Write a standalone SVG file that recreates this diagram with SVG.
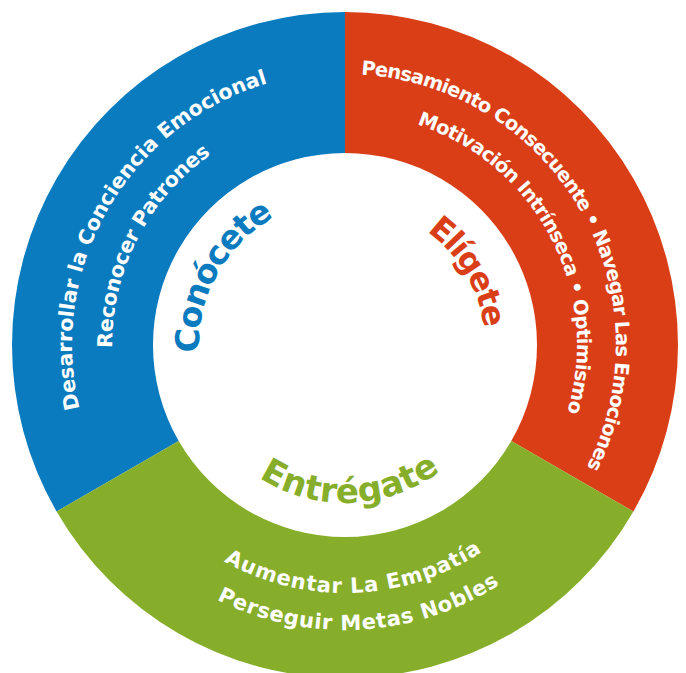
<svg xmlns="http://www.w3.org/2000/svg" width="686" height="673" viewBox="0 0 686 673">
  <defs>
    <style>
      .lbl { font-family: "DejaVu Sans", Verdana, "Liberation Sans", sans-serif; font-weight: bold; fill: #ffffff; }
      .big { font-family: "DejaVu Sans", Verdana, "Liberation Sans", sans-serif; font-weight: bold; }
      .blue { fill: #0A7BBE; }
      .red { fill: #DA3E17; }
      .green { fill: #86AE2B; }
    </style>
    <path id="pBlue1" d="M 79.54 408.73 A 273 273 0 0 1 267.46 83.24" fill="none"/>
    <path id="pBlue2" d="M 112.02 347.85 A 233 233 0 0 1 211.02 154.37" fill="none"/>
    <path id="pRed1" d="M 361.07 74.48 A 271 271 0 0 1 586.89 467.19" fill="none"/>
    <path id="pRed2" d="M 417.08 124.48 A 232 232 0 0 1 567.10 412.06" fill="none"/>
    <path id="pGreen1" d="M 224.01 561.48 A 248 248 0 0 0 481.88 551.80" fill="none"/>
    <path id="pGreen2" d="M 216.94 599.61 A 285 285 0 0 0 499.39 584.56" fill="none"/>
    <path id="pCon" d="M 199.20 352.64 A 146 146 0 0 1 274.22 217.31" fill="none"/>
    <path id="pEli" d="M 426.70 231.31 A 140 140 0 0 1 483.96 327.94" fill="none"/>
    <path id="pEnt" d="M 258.95 477.51 A 158 158 0 0 0 440.09 471.19" fill="none"/>
  </defs>
  <rect width="686" height="673" fill="#ffffff"/>

  <g id="conocete">
    <path class="blue" d="M 56.61 511.5 A 333 333 0 0 1 345 12 L 345 153 A 192 192 0 0 0 178.72 441 Z"/>
    <text class="lbl" font-size="20.5"><textPath href="#pBlue1" textLength="414.5" lengthAdjust="spacing">Desarrollar la Conciencia Emocional</textPath></text>
    <text class="lbl" font-size="20.5"><textPath href="#pBlue2" textLength="226.1" lengthAdjust="spacing">Reconocer Patrones</textPath></text>
    <text class="big blue" font-size="33"><textPath href="#pCon" textLength="163.1" lengthAdjust="spacing">Conócete</textPath></text>
  </g>

  <g id="eligete">
    <path class="red" d="M 345 12 A 333 333 0 0 1 633.39 511.5 L 511.28 441 A 192 192 0 0 0 345 153 Z"/>
    <text class="lbl" font-size="19.5"><textPath href="#pRed1" textLength="536.4" lengthAdjust="spacing">Pensamiento Consecuente • Navegar Las Emociones</textPath></text>
    <text class="lbl" font-size="19.5"><textPath href="#pRed2" textLength="359.2" lengthAdjust="spacing">Motivación Intrínseca • Optimismo</textPath></text>
    <text class="big red" font-size="32"><textPath href="#pEli" textLength="115.6" lengthAdjust="spacing">Elígete</textPath></text>
  </g>

  <g id="entregate">
    <path class="green" d="M 633.39 511.5 A 333 333 0 0 1 56.61 511.5 L 178.72 441 A 192 192 0 0 0 511.28 441 Z"/>
    <text class="lbl" font-size="21"><textPath href="#pGreen1" textLength="271.4" lengthAdjust="spacing">Aumentar La Empatía</textPath></text>
    <text class="lbl" font-size="21"><textPath href="#pGreen2" textLength="296" lengthAdjust="spacing">Perseguir Metas Nobles</textPath></text>
    <text class="big green" font-size="34"><textPath href="#pEnt" textLength="193" lengthAdjust="spacing">Entrégate</textPath></text>
  </g>

  <g id="connectors"></g>
</svg>
